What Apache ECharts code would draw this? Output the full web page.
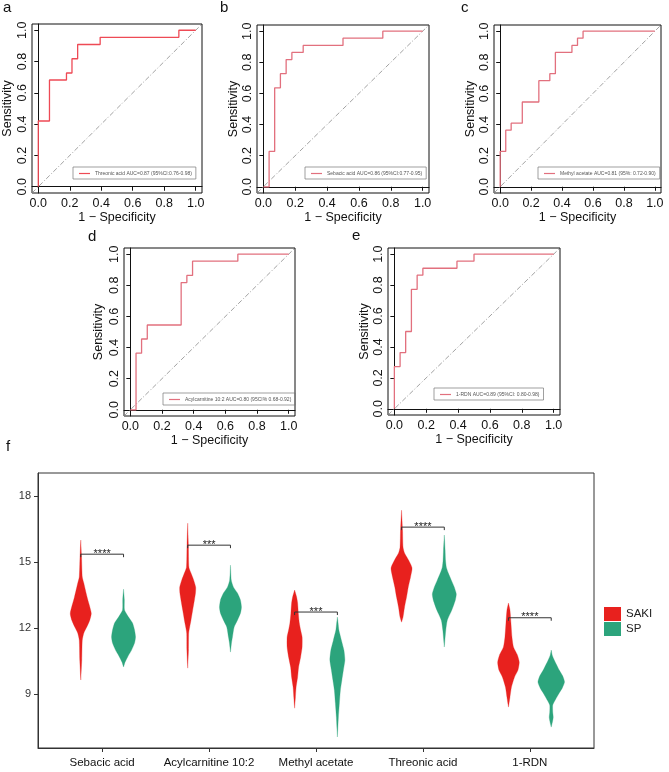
<!DOCTYPE html>
<html>
<head>
<meta charset="utf-8">
<script src="https://cdn.jsdelivr.net/npm/echarts@6/dist/echarts.min.js"></script>
<style>
  html, body { margin: 0; padding: 0; background: #fff; }
  #chart { width: 669px; height: 772px; }
</style>
</head>
<body>
<div id="chart"></div>
<script>
// ---- ROC data (1 - specificity, sensitivity) ----
const rocTicks = [0, 0.2, 0.4, 0.6, 0.8, 1.0];
const rocNames = [
  'Threonic acid AUC=0.87 (95%CI:0.76-0.98)',
  'Sebacic acid AUC=0.86 (95%CI:0.77-0.95)',
  'Methyl acetate AUC=0.81 (95%: 0.72-0.90)',
  'Acylcarnitine 10:2 AUC=0.80 (95CI% 0.68-0.92)',
  '1-RDN AUC=0.89 (95%CI: 0.80-0.98)'
];
const rocThreonic = [[0,0],[0,0.42],[0.071,0.42],[0.071,0.682],[0.179,0.682],[0.179,0.727],[0.214,0.727],[0.214,0.818],[0.25,0.818],[0.25,0.909],[0.393,0.909],[0.393,0.955],[0.893,0.955],[0.893,1],[1,1]];
const rocSebacic = [[0,0],[0.036,0],[0.036,0.227],[0.071,0.227],[0.071,0.636],[0.107,0.636],[0.107,0.727],[0.143,0.727],[0.143,0.818],[0.179,0.818],[0.179,0.864],[0.25,0.864],[0.25,0.909],[0.5,0.909],[0.5,0.955],[0.75,0.955],[0.75,1],[1,1]];
const rocMethyl = [[0,0],[0,0.227],[0.036,0.227],[0.036,0.364],[0.071,0.364],[0.071,0.409],[0.143,0.409],[0.143,0.545],[0.25,0.545],[0.25,0.682],[0.321,0.682],[0.321,0.727],[0.357,0.727],[0.357,0.864],[0.464,0.864],[0.464,0.909],[0.5,0.909],[0.5,0.955],[0.536,0.955],[0.536,1],[1,1]];
const rocAcyl = [[0,0],[0.036,0],[0.036,0.364],[0.071,0.364],[0.071,0.455],[0.107,0.455],[0.107,0.545],[0.321,0.545],[0.321,0.818],[0.357,0.818],[0.357,0.864],[0.393,0.864],[0.393,0.955],[0.679,0.955],[0.679,1],[1,1]];
const rocRDN = [[0,0],[0,0.273],[0.036,0.273],[0.036,0.364],[0.071,0.364],[0.071,0.5],[0.107,0.5],[0.107,0.773],[0.143,0.773],[0.143,0.864],[0.179,0.864],[0.179,0.909],[0.393,0.909],[0.393,0.955],[0.5,0.955],[0.5,1],[1,1]];

// ---- violin data: [value, relative density] from top to bottom ----
const violinCats = ['Sebacic acid', 'Acylcarnitine 10:2', 'Methyl acetate', 'Threonic acid', '1-RDN'];
const violinTicks = [9, 12, 15, 18];
const sakiSebacic = [[16.0,0],[15.2,0.08],[14.32,0.15],[14.05,0.3],[13.41,0.63],[12.68,1.05],[12.36,0.9],[12.05,0.6],[11.77,0.3],[11.45,0.15],[10.55,0.1],[9.64,0]];
const sakiAcyl = [[16.77,0],[15.77,0.07],[14.77,0.12],[14.5,0.33],[14.18,0.6],[13.86,0.8],[13.59,0.78],[13.27,0.67],[12.82,0.5],[12.36,0.33],[12.05,0.2],[11.77,0.1],[11.0,0.08],[10.18,0]];
const sakiMethyl = [[13.73,0],[13.41,0.2],[13.14,0.3],[12.68,0.37],[12.23,0.47],[11.91,0.6],[11.59,0.75],[11.14,0.75],[10.68,0.6],[10.23,0.4],[9.77,0.3],[9.32,0.15],[8.86,0.08],[8.36,0]];
const sakiThreonic = [[17.36,0],[16.45,0.1],[15.68,0.15],[15.41,0.3],[15.09,0.7],[14.73,1.05],[14.32,0.9],[13.86,0.67],[13.41,0.5],[12.95,0.3],[12.5,0.15],[12.27,0]];
const sakiRDN = [[13.14,0],[12.82,0.15],[12.23,0.25],[11.59,0.35],[11.14,0.5],[10.77,0.9],[10.45,1.08],[10.09,0.95],[9.77,0.6],[9.32,0.3],[8.86,0.15],[8.41,0]];
const spSebacic = [[13.77,0],[13.3,0.08],[12.82,0.1],[12.5,0.5],[12.23,0.9],[11.91,1.1],[11.59,1.2],[11.32,1.1],[11.0,0.8],[10.68,0.4],[10.45,0.15],[10.23,0]];
const spAcyl = [[14.86,0],[14.18,0.08],[13.86,0.3],[13.59,0.7],[13.27,1.0],[12.95,1.1],[12.68,1.0],[12.36,0.7],[12.05,0.37],[11.59,0.2],[11.32,0.1],[10.91,0]];
const spMethyl = [[12.5,0],[12.23,0.07],[11.91,0.15],[11.45,0.4],[11.0,0.65],[10.55,0.75],[10.09,0.6],[9.64,0.45],[9.18,0.3],[8.59,0.2],[7.95,0.1],[7.05,0]];
const spThreonic = [[16.23,0],[15.55,0.08],[15.09,0.12],[14.77,0.2],[14.5,0.4],[14.18,0.7],[13.86,1.0],[13.55,1.2],[13.27,1.1],[12.82,0.75],[12.36,0.3],[11.91,0.15],[11.14,0]];
const spRDN = [[11.0,0],[10.77,0.1],[10.55,0.3],[10.09,0.8],[9.82,1.15],[9.55,1.33],[9.27,1.1],[9.05,0.8],[8.73,0.4],[8.5,0.15],[8.18,0.15],[7.95,0.2],[7.73,0.12],[7.5,0]];
const sigY = [15.36, 15.77, 12.73, 16.59, 12.47];
const sigLabels = ['****', '***', '***', '****', '****'];

const sakiProfiles = [sakiSebacic, sakiAcyl, sakiMethyl, sakiThreonic, sakiRDN];
const spProfiles = [spSebacic, spAcyl, spMethyl, spThreonic, spRDN];
const rocCurves = [rocThreonic, rocSebacic, rocMethyl, rocAcyl, rocRDN];

const FONT = 'Liberation Sans, Arial, Helvetica, sans-serif';
const RMIN = -0.04, RMAX = 1.04;
const VIOLIN_HALF = 0.0935;   // x-units per unit of relative density
const DODGE = 0.2;
const RED = '#e8211e', GREEN = '#2ca47c';

// panel boxes: [left, top, right, bottom], y-title gap, legend pos
const panels = [
  { box: [32, 24, 202, 193], yGap: 18, leg: [73, 167], color: '#ee4a55' },
  { box: [257, 25, 429, 193], yGap: 17, leg: [305, 167], color: '#e2707e' },
  { box: [494, 25, 661, 193], yGap: 12, leg: [538, 167], color: '#e2707e' },
  { box: [124, 248, 295, 416], yGap: 19, leg: [163, 393], color: '#e2707e' },
  { box: [388, 248, 560, 415], yGap: 17, leg: [434, 388], color: '#e2707e' }
];
const letters = [
  { t: 'a', l: 3, tp: 0 }, { t: 'b', l: 220, tp: 0 }, { t: 'c', l: 461, tp: 0 },
  { t: 'd', l: 88, tp: 229 }, { t: 'e', l: 352, tp: 228 }, { t: 'f', l: 6, tp: 439 }
];

const grid = [], xAxis = [], yAxis = [], series = [], legend = [];

panels.forEach((p, i) => {
  const [l, t, r, b] = p.box;
  grid.push({ left: l, top: t, width: r - l, height: b - t, show: true,
    borderColor: '#111', borderWidth: 1, backgroundColor: 'transparent' });
  xAxis.push({
    type: 'value', gridIndex: i, min: RMIN, max: RMAX,
    axisLine: { show: true, lineStyle: { color: '#111', width: 1 } },
    splitLine: { show: false },
    axisTick: { show: true, customValues: rocTicks, length: 4, lineStyle: { color: '#111' } },
    axisLabel: { customValues: rocTicks, formatter: v => v.toFixed(1), fontSize: 12.5,
      color: '#111', margin: 4, fontFamily: FONT },
    name: '1 \u2212 Specificity', nameLocation: 'middle', nameGap: 14,
    nameTextStyle: { fontSize: 12.5, color: '#111', fontFamily: FONT }
  });
  yAxis.push({
    type: 'value', gridIndex: i, min: RMIN, max: RMAX,
    axisLine: { show: true, lineStyle: { color: '#111', width: 1 } },
    splitLine: { show: false },
    axisTick: { show: true, customValues: rocTicks, length: 4, lineStyle: { color: '#111' } },
    axisLabel: { customValues: rocTicks, formatter: v => v.toFixed(1), fontSize: 12.5,
      color: '#111', margin: 3, rotate: 90, fontFamily: FONT },
    name: 'Sensitivity', nameLocation: 'middle', nameGap: p.yGap,
    nameTextStyle: { fontSize: 12.5, color: '#111', fontFamily: FONT }
  });
  series.push({
    type: 'line', name: 'diag' + i, xAxisIndex: i, yAxisIndex: i,
    data: [[RMIN, RMIN], [RMAX, RMAX]], symbol: 'none', silent: true,
    lineStyle: { color: '#8a8a8a', width: 0.8, type: [5, 2, 1, 2] }, z: 2
  });
  series.push({
    type: 'line', name: rocNames[i], xAxisIndex: i, yAxisIndex: i,
    data: rocCurves[i], symbol: 'none',
    lineStyle: { color: p.color, width: 1.3 }, itemStyle: { color: p.color }, z: 3
  });
  legend.push({
    data: [rocNames[i]],
    left: p.leg[0], top: p.leg[1], orient: 'horizontal',
    icon: 'rect', itemWidth: 11, itemHeight: 1.2, selectedMode: false,
    itemStyle: { color: p.color, borderWidth: 0 },
    lineStyle: { color: p.color, width: 0 },
    borderColor: '#777', borderWidth: 0.7, padding: [4, 4, 3, 6],
    textStyle: { fontSize: 5, color: '#555', fontFamily: FONT }
  });
});

// ---- violin panel ----
const vi = panels.length;
const violinPos = violinCats.map((c, i) => i + 1);
grid.push({ left: 38, top: 473, width: 556, height: 275, show: true,
  borderColor: '#333', borderWidth: 1, backgroundColor: 'transparent' });
xAxis.push({
  type: 'value', gridIndex: vi, min: 0.4, max: 5.6,
  axisLine: { show: true, lineStyle: { color: '#333' } },
  splitLine: { show: false },
  axisTick: { show: true, customValues: violinPos, length: 4, lineStyle: { color: '#333' } },
  axisLabel: { customValues: violinPos, formatter: v => violinCats[Math.round(v) - 1],
    fontSize: 11.5, color: '#111', margin: 9, fontFamily: FONT }
});
yAxis.push({
  type: 'value', gridIndex: vi, min: 6.55, max: 19.05,
  axisLine: { show: true, lineStyle: { color: '#333' } },
  splitLine: { show: false },
  axisTick: { show: true, customValues: violinTicks, length: 4, lineStyle: { color: '#333' } },
  axisLabel: { customValues: violinTicks, fontSize: 11, color: '#333', margin: 7, fontFamily: FONT }
});

function violinRenderer(profiles, offset, color) {
  return function (params, api) {
    const prof = profiles[params.dataIndex];
    const cx = api.value(0) + offset;
    const pxPerUnit = api.size([1, 0])[0];
    const right = [], left = [];
    prof.forEach(p => {
      const pt = api.coord([cx, p[0]]);
      const h = p[1] * VIOLIN_HALF * pxPerUnit;
      right.push([pt[0] + h, pt[1]]);
      left.unshift([pt[0] - h, pt[1]]);
    });
    return { type: 'polygon', shape: { points: right.concat(left), smooth: 0.2 },
      style: { fill: color, stroke: color, lineWidth: 0.3 } };
  };
}

series.push({
  type: 'custom', name: 'SAKI', xAxisIndex: vi, yAxisIndex: vi,
  itemStyle: { color: RED },
  data: violinPos.map((p, i) => [p, sakiProfiles[i][0][0]]),
  renderItem: violinRenderer(sakiProfiles, -DODGE, RED)
});
series.push({
  type: 'custom', name: 'SP', xAxisIndex: vi, yAxisIndex: vi,
  itemStyle: { color: GREEN },
  data: violinPos.map((p, i) => [p, spProfiles[i][0][0]]),
  renderItem: violinRenderer(spProfiles, DODGE, GREEN)
});
series.push({
  type: 'custom', name: 'sig', xAxisIndex: vi, yAxisIndex: vi, silent: true,
  data: violinPos.map((p, i) => [p, sigY[i]]),
  renderItem: function (params, api) {
    const c = api.value(0), y = api.value(1);
    const a = api.coord([c - DODGE, y]), b = api.coord([c + DODGE, y]);
    return { type: 'group', children: [
      { type: 'polyline', shape: { points: [[a[0], a[1] + 3], [a[0], a[1]], [b[0], b[1]], [b[0], b[1] + 3]] },
        style: { stroke: '#333', lineWidth: 1, fill: null } },
      { type: 'text', x: (a[0] + b[0]) / 2, y: a[1] + 5,
        style: { text: sigLabels[params.dataIndex], fontSize: 11, fill: '#222',
          align: 'center', verticalAlign: 'bottom', fontFamily: FONT } }
    ] };
  }
});
legend.push({
  data: ['SAKI', 'SP'], left: 604, top: 607, orient: 'vertical', icon: 'rect',
  itemWidth: 17, itemHeight: 14, itemGap: 1, selectedMode: false, padding: 0,
  textStyle: { fontSize: 11.5, color: '#222', fontFamily: FONT }
});

const chart = echarts.init(document.getElementById('chart'), null, { renderer: 'canvas' });
chart.setOption({
  backgroundColor: '#fff',
  animation: false,
  title: letters.map(o => ({ text: o.t, left: o.l, top: o.tp, padding: 0,
    textStyle: { fontSize: 15, fontWeight: 'normal', color: '#111', fontFamily: FONT } })),
  grid, xAxis, yAxis, series, legend
});
</script>
</body>
</html>
